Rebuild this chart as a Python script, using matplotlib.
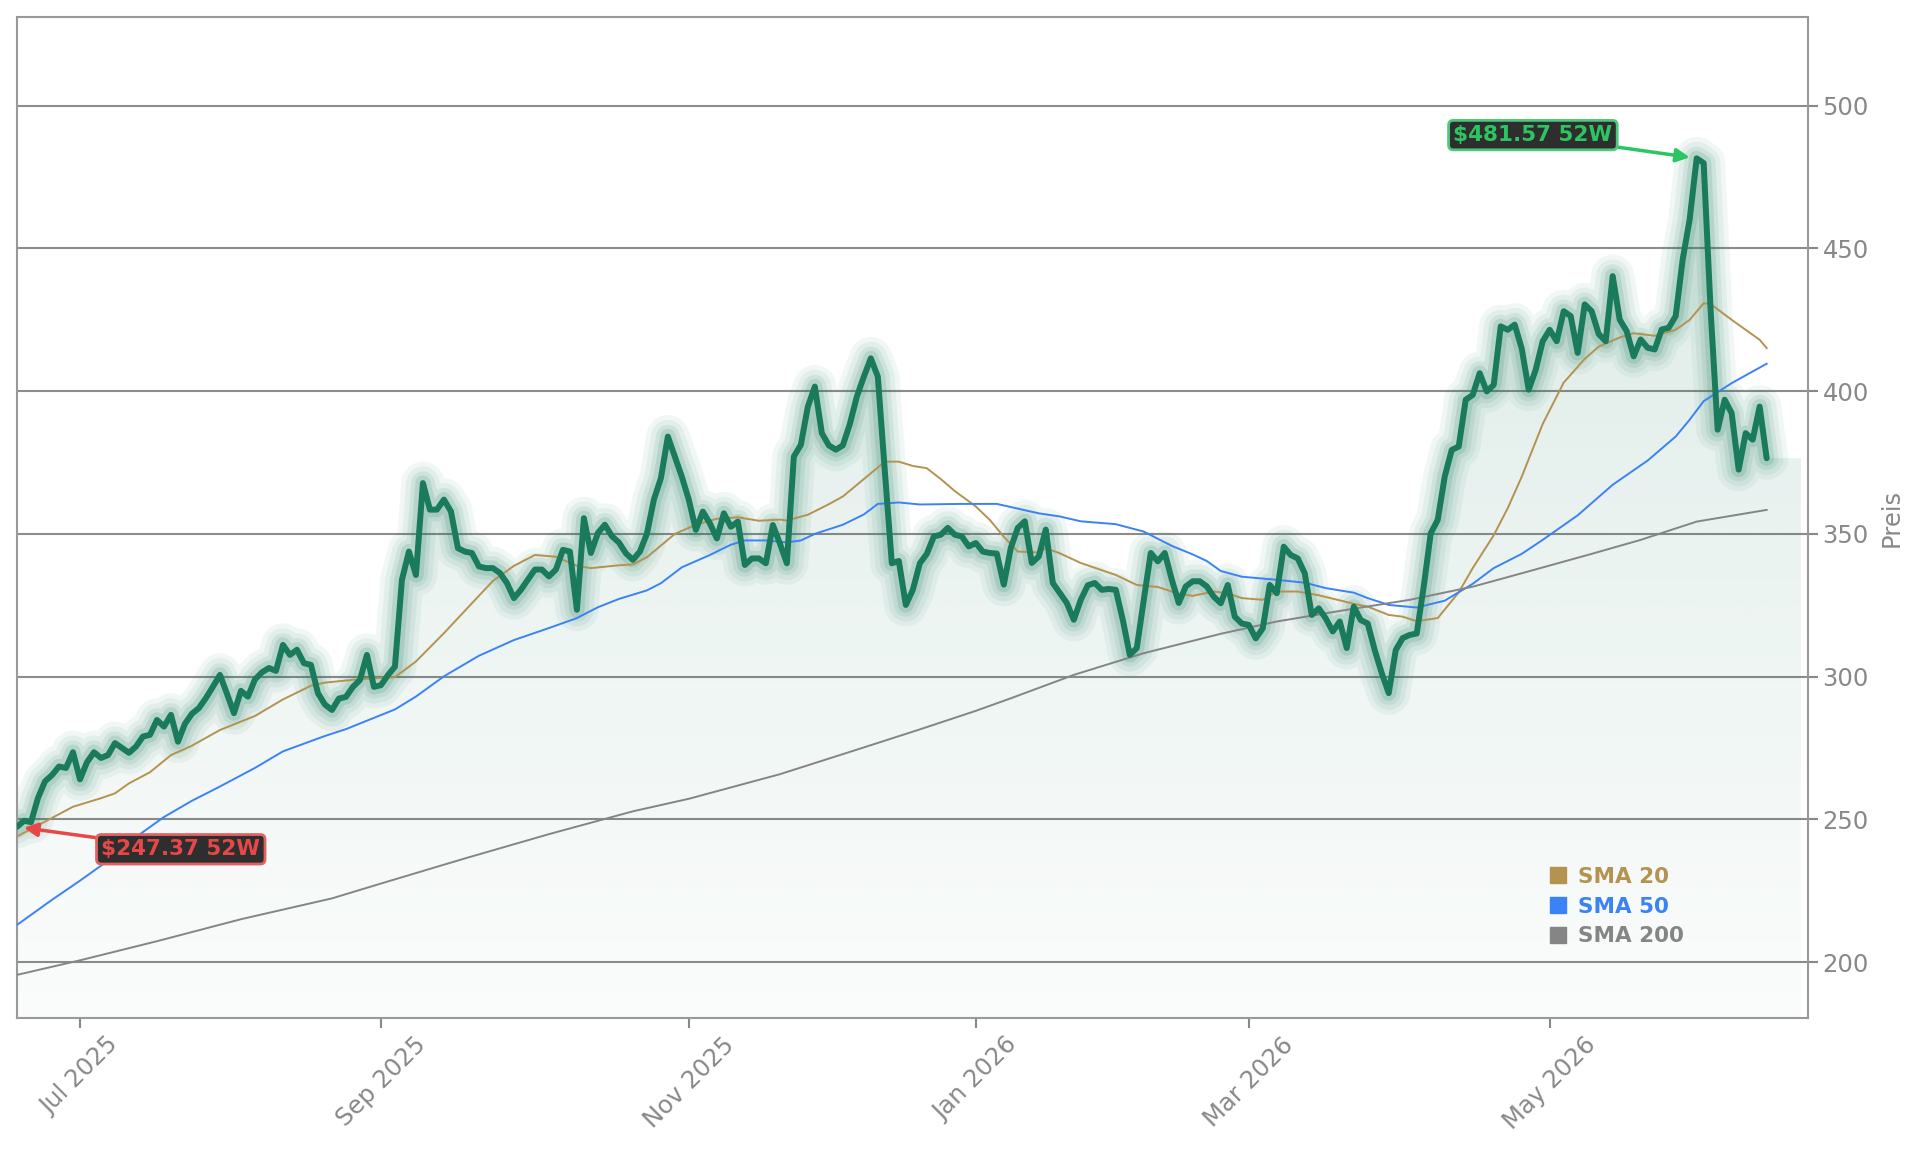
import matplotlib
matplotlib.use("Agg")
import matplotlib.pyplot as plt
import numpy as np
from matplotlib.lines import Line2D
from matplotlib.patches import Polygon
from matplotlib.colors import to_rgb

# ---------------- data (trading-day index) ----------------
price = [
    247.37, 249.5, 249.0, 257.5, 263.3, 265.5, 268.5, 268.0, 273.5, 264.0,
    270.0, 273.5, 271.5, 272.5, 276.7, 275.0, 273.3, 275.5, 279.0, 279.6,
    284.8, 282.5, 286.6, 277.2, 283.5, 287.0, 289.0, 292.5, 296.5, 300.6,
    294.0, 287.2, 295.0, 293.0, 299.0, 301.5, 303.0, 302.0, 311.1, 307.6,
    309.4, 304.7, 304.1, 294.2, 290.2, 288.3, 292.3, 292.9, 296.4, 298.8,
    307.6, 296.4, 297.0, 300.5, 303.5, 333.9, 343.8, 335.6, 367.8, 358.5,
    358.5, 362.0, 357.9, 345.0, 343.8, 343.3, 338.6, 338.0, 338.0, 336.3,
    332.8, 327.5, 330.4, 334.0, 337.5, 337.5, 335.1, 337.5, 344.4, 343.8,
    323.4, 355.5, 343.3, 350.3, 353.2, 349.2, 347.0, 343.2, 340.9, 343.8,
    350.0, 362.0, 369.5, 384.1, 377.0, 370.0, 361.9, 351.4, 357.8, 353.7,
    348.4, 357.2, 352.5, 354.3, 339.1, 341.4, 341.4, 339.7, 353.1, 346.7,
    339.7, 377.1, 381.2, 394.6, 401.6, 385.3, 381.0, 379.5, 381.0, 388.5,
    398.1, 405.1, 411.5, 405.1, 372.0, 339.7, 340.5, 325.1, 330.4, 339.7,
    343.0, 349.1, 349.7, 352.1, 349.7, 349.1, 345.6, 346.8, 343.8, 343.3,
    343.1, 332.2, 345.1, 352.1, 354.4, 339.8, 342.1, 351.5, 332.8, 329.3,
    325.8, 319.9, 326.9, 332.0, 332.8, 330.4, 330.7, 330.4, 319.9, 307.6,
    310.0, 326.9, 343.3, 340.4, 343.3, 334.0, 325.8, 331.6, 333.4, 333.4,
    331.6, 328.0, 325.7, 332.1, 321.0, 318.6, 318.1, 313.4, 316.9, 332.1,
    329.2, 345.5, 342.6, 341.4, 336.2, 321.6, 323.9, 320.4, 315.8, 319.3,
    310.0, 324.5, 319.8, 318.6, 309.3, 301.2, 294.2, 309.3, 313.5, 314.6,
    315.1, 331.5, 350.2, 354.9, 370.1, 379.4, 380.6, 397.0, 398.7, 406.3,
    399.9, 402.2, 422.7, 421.5, 423.3, 415.0, 400.5, 407.5, 417.5, 421.5,
    417.5, 428.0, 426.3, 413.4, 430.4, 428.0, 420.0, 417.5, 440.3, 425.1,
    421.0, 412.2, 418.1, 415.2, 414.6, 421.6, 422.2, 426.3, 446.1, 460.2,
    481.57, 479.9, 428.0, 386.5, 397.0, 392.3, 372.5, 385.3, 383.0, 394.6,
    376.5,
]

sma20_idx = [0, 4, 8, 12, 14, 16, 19, 22, 25, 29, 34, 38, 42, 44, 49, 54, 57, 61, 65, 68,
             71, 74, 77, 80, 82, 86, 88, 90, 94, 97, 100, 103, 106, 109, 110, 113, 116, 118,
             121, 124, 126, 128, 130, 132, 134, 137, 139, 141, 143, 146, 147, 149, 152, 157,
             160, 163, 166, 168, 171, 173, 175, 178, 180, 183, 186, 189, 191, 193, 196, 198,
             200, 203, 206, 208, 211, 213, 215, 218, 221, 224, 226, 229, 231, 234, 237, 239,
             241, 242, 245, 247, 249, 250]
sma20_val = [244.0, 249.2, 254.4, 257.4, 259.1, 262.6, 266.5, 272.5, 275.8, 281.3, 286.2,
             292.0, 296.8, 297.9, 299.1, 299.8, 305.3, 315.2, 325.7, 333.5, 338.8, 342.6,
             342.0, 338.8, 338.0, 339.0, 339.3, 341.8, 350.0, 353.2, 355.3, 355.8, 354.6,
             355.0, 354.7, 356.7, 360.4, 363.1, 369.2, 375.3, 375.3, 373.8, 373.0, 369.2,
             365.0, 359.6, 354.9, 349.0, 343.8, 343.5, 345.0, 343.2, 339.8, 335.6, 332.1,
             331.4, 329.0, 328.3, 329.8, 329.2, 327.5, 326.9, 329.8, 329.8, 328.5, 326.7,
             325.5, 324.5, 321.6, 321.0, 319.4, 320.5, 329.5, 338.0, 349.5, 359.0, 370.0,
             388.5, 403.0, 411.3, 415.6, 418.8, 420.3, 419.4, 421.5, 425.0, 430.8, 430.5,
             425.0, 421.5, 418.0, 415.1]

sma50_idx = [0, 5, 9, 13, 17, 21, 25, 29, 34, 38, 42, 44, 47, 54, 57, 61, 66, 71, 76, 80,
             83, 86, 90, 92, 95, 99, 102, 104, 107, 110, 112, 114, 118, 121, 123, 126, 129,
             135, 140, 142, 146, 149, 152, 157, 161, 165, 168, 170, 172, 175, 180, 184, 187,
             191, 193, 196, 200, 204, 208, 211, 215, 218, 223, 228, 233, 237, 239, 241, 245,
             248, 250]
sma50_val = [213.0, 221.8, 228.5, 235.5, 243.8, 250.8, 256.5, 261.5, 268.0, 273.8, 277.4,
             279.2, 281.6, 288.5, 293.0, 300.1, 307.3, 312.8, 317.0, 320.5, 324.3, 327.2,
             330.2, 332.7, 338.3, 342.6, 346.2, 347.7, 347.7, 347.0, 347.7, 350.0, 353.2,
             356.8, 360.5, 361.0, 360.3, 360.5, 360.5, 359.4, 357.2, 356.1, 354.4, 353.4,
             350.8, 345.8, 342.8, 340.5, 337.0, 335.0, 333.9, 332.9, 331.0, 329.4, 327.5,
             325.1, 324.2, 326.6, 332.5, 338.0, 343.0, 347.9, 356.5, 367.2, 375.7, 384.1,
             390.0, 396.5, 402.8, 406.9, 409.6]

sma200_idx = [0, 9, 20, 32, 45, 52, 64, 76, 88, 96, 109, 120, 129, 137, 142, 151, 161, 172,
              180, 190, 199, 208, 215, 225, 232, 240, 250]
sma200_val = [195.5, 200.6, 207.3, 215.0, 222.3, 227.5, 236.3, 244.8, 252.8, 257.2, 265.8,
              274.4, 281.5, 288.0, 292.4, 300.6, 308.2, 315.0, 319.3, 323.4, 326.9, 331.5,
              336.2, 343.0, 347.9, 354.3, 358.4]

tick_pos = [9, 52, 96, 137, 176, 219]
tick_labels = ["Jul 2025", "Sep 2025", "Nov 2025", "Jan 2026", "Mar 2026", "May 2026"]
y_ticks = [200, 250, 300, 350, 400, 450, 500]

legend_labels = ["SMA 20", "SMA 50", "SMA 200"]
low_label = "\\$247.37 52W"
high_label = "\\$481.57 52W"

# ---------------- style ----------------
GREEN = "#1a7a5c"
C20 = "#b3934f"
C50 = "#3b82f6"
C200 = "#858585"
TXT = "#888888"
FS = 15.5
TFS = 17.5

fig = plt.figure(figsize=(19.21, 11.53), dpi=100)
ax = fig.add_axes([0.00885, 0.1171, 0.9323, 0.8682])

x = np.arange(len(price))
y = np.array(price)
ymin, ymax = 180.4, 531.1
x_end = x[-1] + 4.9

ax.set_axisbelow(True)
ax.yaxis.grid(True, color="#8c8c8c", lw=1.5)
ax.xaxis.grid(False)

# gradient fill under the price
verts = [(x[0], ymin)] + list(zip(x, y)) + [(x_end, y[-1]), (x_end, ymin)]
poly = Polygon(verts, closed=True, facecolor="none", edgecolor="none")
ax.add_patch(poly)
grad = np.linspace(0, 1, 256).reshape(-1, 1)
rgba = np.zeros((256, 1, 4))
rgba[..., :3] = to_rgb(GREEN)
rgba[..., 3] = 0.02 + 0.13 * grad
im = ax.imshow(rgba, extent=[x[0], x_end, ymin, y.max()], origin="lower",
               aspect="auto", zorder=1, interpolation="bilinear")
im.set_clip_path(poly)

# glow
for lw, a in [(31, 0.06), (24, 0.07), (17, 0.09), (11, 0.14)]:
    ax.plot(x, y, color=GREEN, lw=lw, alpha=a, solid_joinstyle="round",
            solid_capstyle="round", zorder=2)

ax.plot(sma20_idx, sma20_val, color=C20, lw=1.4, zorder=3)
ax.plot(sma50_idx, sma50_val, color=C50, lw=1.4, zorder=3)
ax.plot(sma200_idx, sma200_val, color=C200, lw=1.4, zorder=3)

ax.plot(x, y, color=GREEN, lw=4.3, solid_joinstyle="round", solid_capstyle="round", zorder=4)

ax.set_xlim(0, 255.9)
ax.set_ylim(ymin, ymax)

ax.yaxis.tick_right()
ax.yaxis.set_label_position("right")
ax.set_yticks(y_ticks)
ax.set_ylabel("Preis", color=TXT, fontsize=TFS, labelpad=8)
ax.set_xticks(tick_pos)
ax.set_xticklabels(tick_labels, rotation=45)
ax.tick_params(axis="both", colors=TXT, labelsize=TFS, length=7, width=1.5)
for sp in ax.spines.values():
    sp.set_color("#999999")
    sp.set_linewidth(1.5)

# legend
handles = [Line2D([], [], marker="s", ls="none", color=c, markersize=11)
           for c in (C20, C50, C200)]
leg = ax.legend(handles, legend_labels, loc="upper left", bbox_to_anchor=(0.8557, 0.151),
                frameon=False, prop={"weight": "bold", "size": 15.5}, handlelength=0.8,
                handletextpad=0.5, labelspacing=0.45, borderpad=0, borderaxespad=0)
for t, c in zip(leg.get_texts(), (C20, C50, C200)):
    t.set_color(c)

# annotations
ax.annotate(low_label, xy=(x[int(np.argmin(y))], y.min()), xytext=(23.4, 239.5),
            textcoords="data", ha="center", va="center", fontsize=FS, fontweight="bold",
            color="#e8474a",
            bbox=dict(boxstyle="round,pad=0.22", fc="#2e2e2e", ec="#e06262", lw=2),
            arrowprops=dict(arrowstyle="-|>", color="#e8474a", lw=2.5, shrinkA=0,
                            shrinkB=5, mutation_scale=20),
            zorder=10, annotation_clip=False)
ax.annotate(high_label, xy=(x[int(np.argmax(y))], y.max()), xytext=(216.6, 489.7),
            textcoords="data", ha="center", va="center", fontsize=FS, fontweight="bold",
            color="#2bc562",
            bbox=dict(boxstyle="round,pad=0.22", fc="#2e2e2e", ec="#4cc97a", lw=2),
            arrowprops=dict(arrowstyle="-|>", color="#2bc562", lw=2.5, shrinkA=0,
                            shrinkB=5, mutation_scale=20),
            zorder=10, annotation_clip=False)

fig.savefig("out.png", dpi=100, facecolor="white")
